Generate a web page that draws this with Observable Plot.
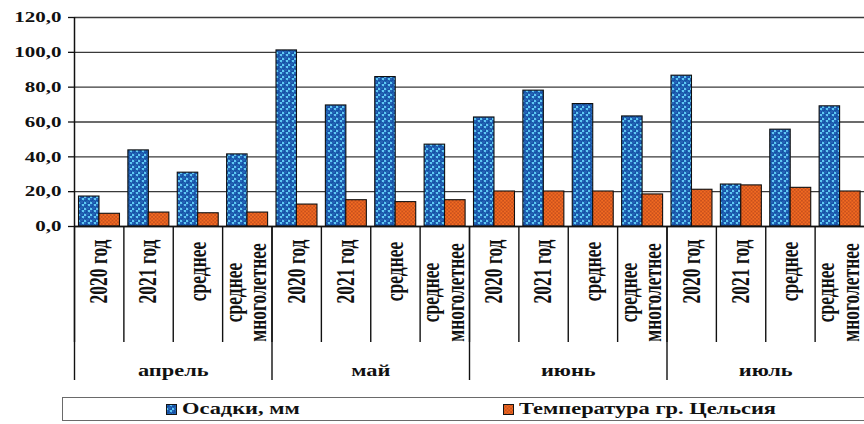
<!DOCTYPE html>
<html>
<head>
<meta charset="utf-8">
<script src="https://cdn.jsdelivr.net/npm/d3@7"></script>
<script src="https://cdn.jsdelivr.net/npm/@observablehq/plot@0.6"></script>
<style>
  html, body { margin: 0; padding: 0; background: #fff; }
  body { width: 864px; height: 424px; overflow: hidden; position: relative;
         font-family: 'Liberation Serif', 'Times New Roman', serif; font-weight: bold; }
  #chart svg { display: block; }
  #chart svg text { font-family: 'Liberation Serif', 'Times New Roman', serif; font-weight: bold; }
  .legend { position: absolute; left: 62px; top: 397px; width: 860px; height: 24px;
            border: 1.6px solid #6a6a6a; box-sizing: border-box; background: #fff; }
  .legend-item { position: absolute; top: 0; height: 100%; display: flex; align-items: center; }
  .legend-item svg { display: block; margin-right: 5px; }
  .legend-item span { display: inline-block; font-size: 16px; color: #111;
                      transform: scaleX(1.4); transform-origin: left center; white-space: nowrap; }
</style>
</head>
<body>
<div id="chart"></div>
<script>
// Months and the four periods shown for each month
const months = ["апрель", "май", "июнь", "июль"];
const periods = ["2020 год", "2021 год", "среднее", "среднее\nмноголетнее"];

// Precipitation, mm (one value per month × period)
const precipitation = [17.2, 43.7, 30.9, 41.4,  101.1, 69.5, 85.8, 47.0,  62.6, 78.0, 70.3, 63.2,  86.6, 24.1, 55.6, 69.0];
// Air temperature, °C
const temperature   = [7.3, 8.0, 7.6, 8.0,  12.6, 15.1, 14.0, 15.1,  20.1, 20.1, 20.1, 18.4,  21.1, 23.6, 22.2, 20.1];

const yTicks = [0, 20, 40, 60, 80, 100, 120];
const seriesNames = ["Осадки, мм", "Температура гр. Цельсия"];

// One row per category slot along the x axis
const rows = [];
months.forEach((month, m) => periods.forEach((period, p) => {
  const i = m * periods.length + p;
  rows.push({ i, month, period, precipitation: precipitation[i], temperature: temperature[i] });
}));
const slotCount = rows.length;
const monthRows = months.map((month, m) => ({ month, start: m * periods.length }));

const serif = "'Liberation Serif', 'Times New Roman', serif";
const ink = "#111";

const plot = Plot.plot({
  width: 864,
  height: 394,
  marginLeft: 74,
  marginRight: 0,
  marginTop: 17,
  marginBottom: 168,
  style: { fontFamily: serif, fontWeight: "bold", color: ink, background: "#fff", overflow: "visible" },
  x: { domain: [0, slotCount], label: null },
  y: { domain: [0, 120], label: null },
  marks: [
    // horizontal gridlines
    Plot.ruleY(yTicks, { stroke: "#3a3a3a", strokeWidth: 1.3 }),
    // precipitation bars (left of each slot)
    Plot.rectY(rows, {
      x1: "i", x2: (d) => d.i + 1, y: "precipitation",
      fill: "url(#bubbles)", stroke: "#101010", strokeWidth: 1.1,
      insetLeft: 4.5, insetRight: 24.4
    }),
    // temperature bars (right of each slot)
    Plot.rectY(rows, {
      x1: "i", x2: (d) => d.i + 1, y: "temperature",
      fill: "url(#dots)", stroke: "#101010", strokeWidth: 1.1,
      insetLeft: 24.9, insetRight: 3.9
    }),
    // value axis line and baseline
    Plot.ruleX([0], { stroke: ink, strokeWidth: 1.5 }),
    Plot.ruleY([0], { stroke: ink, strokeWidth: 1.5 }),
    Plot.axisY({
      ticks: yTicks, tickSize: 6, tickPadding: 7, stroke: ink, strokeWidth: 1.3,
      fontSize: 15, fill: ink, label: null,
      tickFormat: (d) => d.toFixed(1).replace(".", ",")
    }),
    // separators between period slots, and longer ones between months
    Plot.axisX({
      ticks: d3.range(0, slotCount), tickSize: 116, stroke: ink, strokeWidth: 1.4,
      tickFormat: () => "", label: null
    }),
    Plot.axisX({
      ticks: d3.range(0, slotCount, periods.length), tickSize: 154, stroke: ink, strokeWidth: 1.4,
      tickFormat: () => "", label: null
    }),
    // period labels, rotated
    Plot.text(rows.filter((d) => !d.period.includes("\n")), {
      x: (d) => d.i + 0.5, text: "period", rotate: -90, frameAnchor: "bottom",
      dy: 45, fontSize: 17.5, lineAnchor: "middle", fill: ink
    }),
    Plot.text(rows.filter((d) => d.period.includes("\n")), {
      x: (d) => d.i + 0.5, text: "period", rotate: -90, frameAnchor: "bottom",
      dy: 66, dx: -1, fontSize: 17.5, lineHeight: 0.98, lineAnchor: "middle", fill: ink
    }),
    // month labels
    Plot.text(monthRows, {
      x: (d) => d.start + periods.length / 2, text: "month", frameAnchor: "bottom",
      dy: 144, fontSize: 16, lineAnchor: "middle", fill: ink
    })
  ]
});

// Fill patterns for the two series
d3.select(plot).insert("defs", ":first-child").html(`
  <pattern id="bubbles" patternUnits="userSpaceOnUse" width="6" height="6">
    <rect width="6" height="6" fill="#5ec8f3"/>
    <circle cx="1.5" cy="1.5" r="2.4" fill="#1550a6"/>
    <circle cx="4.5" cy="4.5" r="2.4" fill="#1550a6"/>
    <circle cx="1.0" cy="1.0" r="0.7" fill="#3f84cf"/>
    <circle cx="4.0" cy="4.0" r="0.7" fill="#3f84cf"/>
  </pattern>
  <pattern id="dots" patternUnits="userSpaceOnUse" width="3.6" height="3.6">
    <rect width="3.6" height="3.6" fill="#f26a21"/>
    <circle cx="0.9" cy="0.9" r="0.8" fill="#b5441a"/>
    <circle cx="2.7" cy="2.7" r="0.8" fill="#b5441a"/>
  </pattern>
`);

// Wide serif lettering: stretch every label horizontally about its anchor
const stretch = 1.4;
plot.querySelectorAll("text").forEach((t) => {
  const tr = t.getAttribute("transform");
  if (tr && tr.includes("translate(")) {
    t.setAttribute("transform", tr.replace(/(translate\([^)]*\))/, `$1 scale(${stretch},1)`));
  } else {
    const x = +t.getAttribute("x") || 0, y = +t.getAttribute("y") || 0;
    t.setAttribute("transform", `translate(${x},${y}) scale(${stretch},1) translate(${-x},${-y})`);
  }
});

document.getElementById("chart").appendChild(plot);

// Legend below the chart
const legend = d3.select("body").append("div").attr("class", "legend");
const legendItems = [
  { name: seriesNames[0], fill: "url(#bubbles)", left: 103 },
  { name: seriesNames[1], fill: "url(#dots)", left: 440 }
];
legendItems.forEach((item) => {
  const el = legend.append("div").attr("class", "legend-item").style("left", item.left + "px");
  const sw = el.append("svg").attr("width", 11).attr("height", 11);
  sw.append("rect").attr("x", 0.5).attr("y", 0.5).attr("width", 10).attr("height", 10)
    .attr("fill", item.fill).attr("stroke", "#151515").attr("stroke-width", 1);
  el.append("span").text(item.name);
});
</script>
</body>
</html>
